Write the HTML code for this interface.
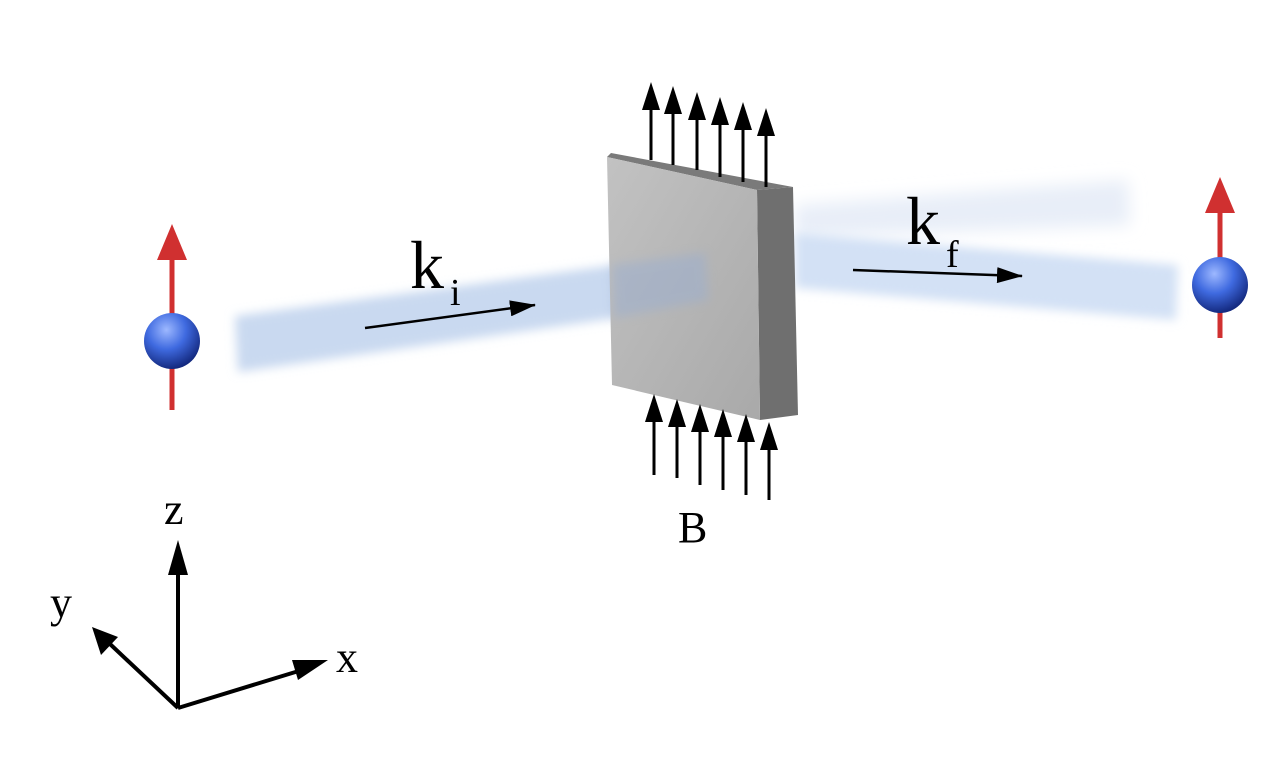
<!DOCTYPE html>
<html><head><style>html,body{margin:0;padding:0;background:#fff;}svg{display:block}</style></head>
<body>
<svg width="1280" height="765" viewBox="0 0 1280 765" xmlns="http://www.w3.org/2000/svg">
<defs>
<filter id="bl" x="-20%" y="-100%" width="140%" height="300%"><feGaussianBlur stdDeviation="5"/></filter>
<filter id="bl2" x="-20%" y="-100%" width="140%" height="300%"><feGaussianBlur stdDeviation="8"/></filter>
<radialGradient id="sp" cx="0.4" cy="0.3" r="0.7"><stop offset="0" stop-color="#9db8ff"/><stop offset="0.5" stop-color="#3f6ae0"/><stop offset="1" stop-color="#142a80"/></radialGradient>
<linearGradient id="fr" x1="0" y1="0" x2="1" y2="1"><stop offset="0" stop-color="#c2c2c2"/><stop offset="1" stop-color="#a9a9a9"/></linearGradient>
<marker id="ah" markerWidth="26" markerHeight="16" refX="25" refY="8" orient="auto" markerUnits="userSpaceOnUse"><path d="M0,0 L26,8 L0,16 Z" fill="#000"/></marker>
</defs>
<polygon points="795,205 1128,180 1130,225 795,238" fill="#e8eef8" filter="url(#bl2)"/>
<polygon points="235,316 705,253 708,305 238,372" fill="#c9d9f0" filter="url(#bl)"/>
<polygon points="795,233 1178,265 1176,320 795,288" fill="#d3e1f5" filter="url(#bl)"/>
<polygon points="607,157 611,153 793,187 757,190" fill="#7a7a7a"/>
<polygon points="757,190 793,187 798,415 760,420" fill="#6f6f6f"/>
<polygon points="607,157 757,190 760,420 612,385" fill="url(#fr)"/>
<polygon points="612,265 705,253 708,300 614,318" fill="#9aaed0" opacity="0.5" filter="url(#bl)"/>
<g stroke="#000" stroke-width="3" fill="#000">
<line x1="651" y1="160" x2="651" y2="100"/><line x1="673" y1="165" x2="673" y2="104"/><line x1="697" y1="170" x2="697" y2="110"/><line x1="720" y1="177" x2="720" y2="115"/><line x1="743" y1="182" x2="743" y2="120"/><line x1="766" y1="187" x2="766" y2="126"/>
<line x1="654" y1="475" x2="654" y2="412"/><line x1="677" y1="478" x2="677" y2="417"/><line x1="700" y1="485" x2="700" y2="422"/><line x1="723" y1="490" x2="723" y2="427"/><line x1="746" y1="495" x2="746" y2="432"/><line x1="769" y1="500" x2="769" y2="440"/>
</g>
<g fill="#000">
<polygon points="651,82 642,110 660,110"/><polygon points="673,86 664,114 682,114"/><polygon points="697,92 688,120 706,120"/><polygon points="720,97 711,125 729,125"/><polygon points="743,102 734,130 752,130"/><polygon points="766,108 757,136 775,136"/>
<polygon points="654,394 645,422 663,422"/><polygon points="677,399 668,427 686,427"/><polygon points="700,404 691,432 709,432"/><polygon points="723,409 714,437 732,437"/><polygon points="746,414 737,442 755,442"/><polygon points="769,422 760,450 778,450"/>
</g>
<line x1="172" y1="410" x2="172" y2="260" stroke="#d03030" stroke-width="5"/>
<polygon points="172,224 157,260 187,260" fill="#d03030"/>
<circle cx="172" cy="341" r="28" fill="url(#sp)"/>
<line x1="1220" y1="338" x2="1220" y2="212" stroke="#d03030" stroke-width="5"/>
<polygon points="1220,177 1205,213 1235,213" fill="#d03030"/>
<circle cx="1220" cy="285" r="28" fill="url(#sp)"/>
<line x1="365" y1="328" x2="535" y2="305" stroke="#000" stroke-width="2.5" marker-end="url(#ah)"/>
<line x1="853" y1="270" x2="1022" y2="276" stroke="#000" stroke-width="2.5" marker-end="url(#ah)"/>
<g font-family="Liberation Serif, serif" fill="#000">
<text x="410" y="288" font-size="68">k</text><text x="450" y="305" font-size="38">i</text>
<text x="906" y="244" font-size="68">k</text><text x="946" y="267" font-size="38">f</text>
<text x="678" y="542" font-size="44">B</text>
<text x="164" y="524" font-size="44">z</text>
<text x="50" y="617" font-size="44">y</text>
<text x="336" y="672" font-size="44">x</text>
</g>
<g stroke="#000" stroke-width="4" fill="none">
<line x1="178" y1="708" x2="178" y2="570"/>
<line x1="178" y1="708" x2="302" y2="670"/>
<line x1="178" y1="708" x2="110" y2="644"/>
</g>
<polygon points="178,540 168,575 188,575" fill="#000"/>
<polygon points="328,660 298,680 292,660" fill="#000"/>
<polygon points="92,627 101,655 118,637" fill="#000"/>
</svg>
</body></html>
